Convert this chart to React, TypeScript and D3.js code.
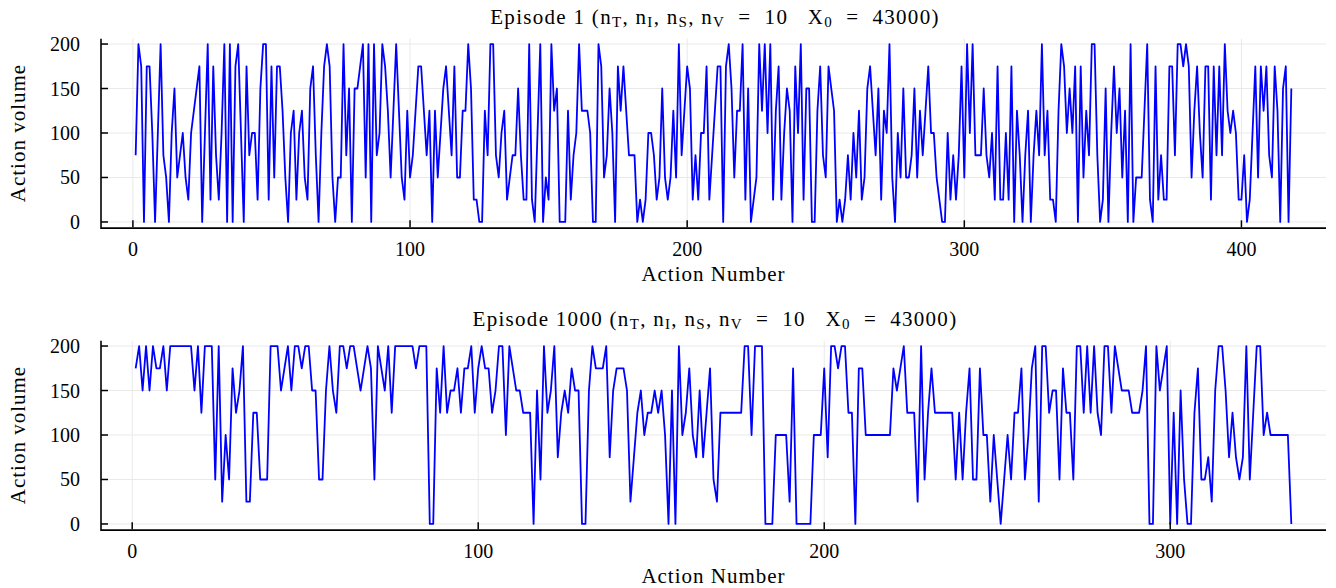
import React from "react";
import * as d3 from "d3";

// ---- Data (action volume per action number) ----
const episode1Volumes: number[] = [
  75, 200, 175, 0, 175, 175, 100, 0, 100, 200, 75, 50, 0, 100, 150, 50, 75, 100, 50, 25,
  100, 125, 150, 175, 0, 100, 200, 25, 175, 75, 25, 100, 200, 0, 200, 0, 175, 200, 100, 0,
  175, 75, 100, 100, 25, 150, 200, 200, 25, 175, 50, 175, 175, 125, 50, 0, 100, 125, 25, 100,
  125, 50, 25, 150, 175, 75, 0, 100, 175, 200, 175, 50, 0, 50, 50, 200, 75, 150, 0, 150,
  150, 175, 200, 50,
  200, 0, 200, 75, 100, 200, 175, 125, 50, 125, 200, 125, 50, 25, 125, 50, 75, 125, 175, 175,
  125, 75, 125, 0, 125, 50, 100, 150, 175, 125, 75, 175, 50, 50, 125, 125, 200, 150, 25, 25,
  0, 0, 125, 75, 200, 200, 75, 50, 100, 125, 25, 50, 75, 75, 150, 75, 25, 25, 200, 25,
  0, 100, 200, 0, 50, 25, 200, 125, 150, 0, 0, 0, 125, 25, 75, 100, 200, 125, 125, 125,
  100, 0, 0, 200,
  175, 50, 75, 150, 100, 0, 175, 125, 175, 125, 75, 75, 75, 0, 25, 0, 25, 100, 100, 75,
  25, 50, 150, 50, 25, 50, 125, 50, 200, 75, 125, 175, 150, 25, 75, 25, 100, 100, 175, 25,
  75, 125, 175, 175, 0, 175, 200, 150, 50, 125, 125, 200, 25, 150, 0, 25, 50, 200, 125, 200,
  100, 200, 25, 125, 175, 25, 100, 150, 125, 0, 175, 100, 200, 25, 150, 150, 0, 0, 125, 175,
  75, 50, 175, 150, 125,
  0, 25, 0, 25, 75, 25, 100, 50, 125, 25, 50, 150, 175, 125, 75, 150, 25, 125, 100, 200,
  50, 0, 100, 50, 150, 50, 50, 75, 150, 50, 125, 75, 125, 175, 100, 100, 50, 25, 0, 0,
  100, 25, 75, 25, 75, 175, 50, 200, 100, 200, 75, 75, 75, 150, 75, 50, 100, 25, 175, 25,
  25, 100, 25, 175, 0, 125, 75, 0, 75, 125, 0, 75, 125, 75, 200, 75, 125, 25, 25, 0,
  125, 200, 175, 100, 150,
  100, 175, 0, 175, 50, 125, 75, 200, 200, 75, 0, 25, 150, 0, 100, 175, 100, 150, 50, 125,
  0, 200, 0, 50, 50, 50, 125, 200, 25, 0, 175, 25, 75, 25, 25, 175, 175, 75, 200, 200,
  175, 200, 175, 50, 125, 175, 100, 50, 175, 175, 25, 175, 75, 175, 75, 200, 125, 100, 125, 100,
  25, 25, 75, 0, 25, 100, 175, 50, 175, 125, 175, 75, 50, 175, 125, 0, 150, 175, 0, 150,
];

const episode1000Volumes: number[] = [
  175, 200, 150, 200, 150, 200, 175, 175, 200, 150, 200, 200, 200, 200, 200, 200, 200, 150, 200, 125,
  200, 200, 200, 50, 200, 25, 100, 50, 175, 125, 150, 200, 25, 25, 125, 125, 50, 50, 50, 200,
  200, 200, 150, 175, 200, 150, 200, 200, 175, 200, 200, 150, 150, 50, 50, 150, 200, 150, 125, 200,
  200, 175, 200, 200, 175, 150, 175, 200, 175, 50, 200, 175, 150, 200, 125, 200, 200, 200, 200, 200,
  200, 175, 200, 200,
  200, 0, 0, 175, 125, 200, 125, 150, 150, 175, 125, 175, 175, 200, 125, 175, 200, 175, 175, 125,
  150, 200, 200, 100, 200, 175, 150, 150, 125, 125, 125, 0, 150, 50, 200, 125, 150, 200, 75, 125,
  150, 125, 175, 150, 150, 0, 0, 150, 200, 175, 175, 175, 200, 75, 150, 175, 175, 175, 150, 25,
  75, 125, 150, 100, 125, 125, 150, 125, 150, 100, 0, 150, 0, 200, 100, 125, 175, 100, 75, 150,
  75, 125, 175, 50, 25,
  125, 125, 125, 125, 125, 125, 125, 200, 200, 100, 200, 200, 200, 0, 0, 0, 100, 100, 100, 100,
  25, 175, 0, 0, 0, 0, 0, 100, 100, 100, 175, 75, 200, 200, 175, 200, 200, 125, 125, 0,
  175, 175, 100, 100, 100, 100, 100, 100, 100, 100, 175, 150, 175, 200, 125, 125, 125, 25, 200, 50,
  125, 175, 125, 125, 125, 125, 125, 125, 50, 125, 50, 125, 175, 50, 50, 175, 100, 100, 25, 100,
  50, 0, 50, 100, 50, 125,
  125, 175, 50, 100, 175, 200, 25, 200, 200, 125, 150, 150, 50, 175, 125, 125, 50, 200, 200, 125,
  200, 125, 200, 125, 100, 200, 200, 125, 200, 175, 150, 150, 150, 125, 125, 125, 150, 200, 0, 0,
  200, 150, 175, 200, 0, 125, 0, 150, 50, 0, 0, 125, 175, 50, 50, 75, 25, 150, 200, 200,
  150, 75, 125, 75, 50, 75, 200, 50, 125, 200, 200, 100, 125, 100, 100, 100, 100, 100, 100, 0,
];

const yTicks: number[] = [0, 50, 100, 150, 200];
const xTicksEpisode1: number[] = [0, 100, 200, 300, 400];
const xTicksEpisode1000: number[] = [0, 100, 200, 300];
const episodeNames: string[] = ["Episode 1", "Episode 1000"];
const xAxisLabel = "Action Number";
const yAxisLabel = "Action volume";

const FONT = "'Liberation Serif', 'Times New Roman', serif";

type PanelProps = {
  name: string;
  values: number[];
  xTicks: number[];
  top: number;
  bottom: number;
  titleY: number;
};

function Title({ name, y }: { name: string; y: number }) {
  const SUB = 5;
  const subSize = 15;
  return (
    <text
      x={715}
      y={y}
      textAnchor="middle"
      dominantBaseline="central"
      fontFamily={FONT}
      fontSize={21}
      letterSpacing={1.3}
      style={{ whiteSpace: "pre" }}
      fill="#000"
    >
      <tspan>{name + " (n"}</tspan>
      <tspan dy={SUB} fontSize={subSize}>T</tspan>
      <tspan dy={-SUB}>{", n"}</tspan>
      <tspan dy={SUB} fontSize={subSize}>I</tspan>
      <tspan dy={-SUB}>{", n"}</tspan>
      <tspan dy={SUB} fontSize={subSize}>S</tspan>
      <tspan dy={-SUB}>{", n"}</tspan>
      <tspan dy={SUB} fontSize={subSize}>V</tspan>
      <tspan dy={-SUB}>{"  =  10   X"}</tspan>
      <tspan dy={SUB} fontSize={subSize}>0</tspan>
      <tspan dy={-SUB}>{"  =  43000)"}</tspan>
    </text>
  );
}

function Panel({ name, values, xTicks, top, bottom, titleY }: PanelProps) {
  const left = 101;
  const right = 1326;
  const n = values.length;
  const pad = 0.03 * (n - 1);
  const x = d3.scaleLinear().domain([1 - pad, n + pad]).range([left, right]);
  const y = d3.scaleLinear().domain([-6, 206]).range([bottom, top]);
  const line = d3
    .line<number>()
    .x((_, i) => x(i + 1))
    .y((v) => y(v));
  const path = line(values) || "";
  const grid = "#e9e9e9";
  return (
    <g>
      <Title name={name} y={titleY} />
      {yTicks.map((t) => (
        <line key={"gy" + t} x1={left} x2={right} y1={y(t)} y2={y(t)} stroke={grid} strokeWidth={1} />
      ))}
      {xTicks.map((t) => (
        <line key={"gx" + t} x1={x(t)} x2={x(t)} y1={top} y2={bottom} stroke={grid} strokeWidth={1} />
      ))}
      <path d={path} fill="none" stroke="#0000ff" strokeWidth={1.8} strokeLinejoin="round" />
      <line x1={left} x2={right} y1={bottom + 0.8} y2={bottom + 0.8} stroke="#000" strokeWidth={1.6} />
      <line x1={left} x2={left} y1={top} y2={bottom + 1.6} stroke="#000" strokeWidth={1.6} />
      {yTicks.map((t) => (
        <g key={"ty" + t}>
          <line x1={left} x2={left + 7} y1={y(t)} y2={y(t)} stroke="#000" strokeWidth={1.5} />
          <text
            x={80}
            y={y(t)}
            textAnchor="end"
            dominantBaseline="central"
            fontFamily={FONT}
            fontSize={20}
            fill="#000"
          >
            {t}
          </text>
        </g>
      ))}
      {xTicks.map((t) => (
        <g key={"tx" + t}>
          <line x1={x(t)} x2={x(t)} y1={bottom} y2={bottom - 7} stroke="#000" strokeWidth={1.5} />
          <text
            x={x(t)}
            y={bottom + 22}
            textAnchor="middle"
            dominantBaseline="central"
            fontFamily={FONT}
            fontSize={20}
            fill="#000"
          >
            {t}
          </text>
        </g>
      ))}
      <text
        x={(left + right) / 2}
        y={bottom + 47}
        textAnchor="middle"
        dominantBaseline="central"
        fontFamily={FONT}
        fontSize={21}
        letterSpacing={1}
        fill="#000"
      >
        {xAxisLabel}
      </text>
      <text
        transform={`translate(18, ${(top + bottom) / 2}) rotate(-90)`}
        textAnchor="middle"
        dominantBaseline="central"
        fontFamily={FONT}
        fontSize={21}
        letterSpacing={1}
        fill="#000"
      >
        {yAxisLabel}
      </text>
    </g>
  );
}

export default function App() {
  return (
    <svg
      width={1336}
      height={588}
      viewBox="0 0 1336 588"
      style={{ position: "absolute", left: 0, top: 0, display: "block", background: "#fff" }}
    >
      <rect x={0} y={0} width={1336} height={588} fill="#fff" />
      <Panel name={episodeNames[0]} values={episode1Volumes} xTicks={xTicksEpisode1} top={38.7} bottom={227.3} titleY={17} />
      <Panel name={episodeNames[1]} values={episode1000Volumes} xTicks={xTicksEpisode1000} top={340.7} bottom={529.3} titleY={319} />
    </svg>
  );
}
